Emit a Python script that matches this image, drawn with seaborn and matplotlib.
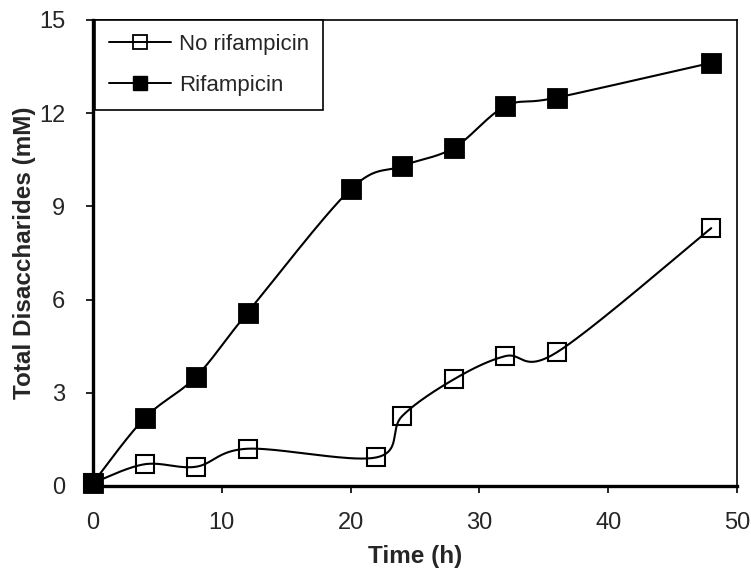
import numpy as np
import pandas as pd
import matplotlib
matplotlib.use("Agg")
import matplotlib.pyplot as plt
from matplotlib.lines import Line2D
import seaborn as sns

# Sampling times (h) and total disaccharide concentration (mM)
time_h = [0, 4, 8, 12, 22, 24, 28, 32, 36, 48]
no_rif = [0.1, 0.7, 0.62, 1.2, 0.92, 2.25, 3.43, 4.18, 4.3, 8.3]

time_rif = [0, 4, 8, 12, 20, 24, 28, 32, 36, 48]
rif = [0.1, 2.18, 3.52, 5.58, 9.55, 10.3, 10.88, 12.22, 12.5, 13.62]

series_labels = ["No rifampicin", "Rifampicin"]
x_ticks = [0, 10, 20, 30, 40, 50]
y_ticks = [0, 3, 6, 9, 12, 15]

sns.set_style("ticks")
plt.rcParams["font.family"] = ["Liberation Sans", "DejaVu Sans"]

W, H = 751, 569
fig = plt.figure(figsize=(W / 100, H / 100), dpi=100)
ax = fig.add_axes([93 / W, 1 - 486 / H, (737 - 93) / W, (486 - 20) / H])

XMAX, YMAX = 50, 15
sx = (737 - 93) / XMAX   # screen units per hour
sy = (486 - 20) / YMAX   # screen units per mM


def smooth(xs, ys, n=40):
    """Catmull-Rom curve through the points, built in screen proportions."""
    p = np.column_stack([np.asarray(xs, float) * sx, np.asarray(ys, float) * sy])
    p = np.vstack([p[0], p, p[-1]])
    out = []
    t = np.linspace(0, 1, n)[:, None]
    for i in range(1, len(p) - 2):
        p0, p1, p2, p3 = p[i - 1], p[i], p[i + 1], p[i + 2]
        c1 = p1 + (p2 - p0) / 6
        c2 = p2 - (p3 - p1) / 6
        seg = ((1 - t) ** 3) * p1 + 3 * ((1 - t) ** 2) * t * c1 \
            + 3 * (1 - t) * t ** 2 * c2 + t ** 3 * p2
        out.append(seg if i == 1 else seg[1:])
    out = np.vstack(out)
    return out[:, 0] / sx, out[:, 1] / sy


for xs, ys in [(time_h, no_rif), (time_rif, rif)]:
    cx, cy = smooth(xs, ys)
    curve = pd.DataFrame({"t": cx, "c": cy})
    sns.lineplot(data=curve, x="t", y="c", sort=False, estimator=None,
                 color="black", linewidth=1.5, ax=ax, zorder=2)

# Data markers
sns.lineplot(x=time_h, y=no_rif, estimator=None, sort=False, ax=ax,
             linestyle="", marker="s", markersize=13.2,
             markerfacecolor="none", markeredgecolor="black",
             markeredgewidth=1.5, zorder=3, clip_on=False)
sns.lineplot(x=time_rif, y=rif, estimator=None, sort=False, ax=ax,
             linestyle="", marker="s", markersize=14.3,
             markerfacecolor="black", markeredgecolor="black",
             markeredgewidth=0.6, zorder=4, clip_on=False)

ax.set_xlim(0, XMAX)
ax.set_ylim(0, YMAX)
ax.set_xticks(x_ticks)
ax.set_yticks(y_ticks)
ax.tick_params(axis="both", labelsize=17, length=5, width=1.2,
               color="black", direction="out")
ax.tick_params(axis="x", pad=14)
ax.tick_params(axis="y", pad=15)

for side in ["left", "bottom"]:
    ax.spines[side].set_linewidth(2.4)
for side in ["top", "right"]:
    ax.spines[side].set_visible(True)
    ax.spines[side].set_linewidth(1.2)
for s in ax.spines.values():
    s.set_color("black")

ax.set_xlabel("Time (h)", fontsize=17.5, fontweight="bold", labelpad=8)
ax.set_ylabel("Total Disaccharides (mM)", fontsize=17.5, fontweight="bold",
              labelpad=2)

handles = [
    Line2D([], [], color="black", lw=1.4, marker="s", markersize=10,
           markerfacecolor="none", markeredgecolor="black", markeredgewidth=1.3),
    Line2D([], [], color="black", lw=1.4, marker="s", markersize=10.5,
           markerfacecolor="black", markeredgecolor="black"),
]
leg = ax.legend(handles, series_labels, loc="upper left",
                bbox_to_anchor=(0.003, 1.0), borderaxespad=0, fontsize=16,
                frameon=True, fancybox=False, handlelength=2.8,
                handletextpad=0.35, labelspacing=0.9, borderpad=0.62)
leg.get_frame().set_edgecolor("black")
leg.get_frame().set_linewidth(1.2)
leg.get_frame().set_alpha(1)

fig.savefig("out.png", dpi=100)
